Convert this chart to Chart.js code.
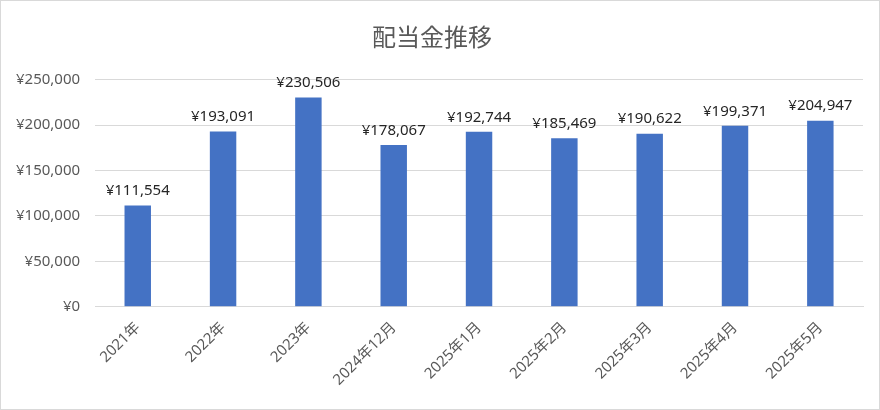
<!DOCTYPE html>
<html>
<head>
<meta charset="utf-8">
<script src="https://cdn.jsdelivr.net/npm/chart.js@4.4.1/dist/chart.umd.min.js"></script>
<style>
	html, body { margin: 0; padding: 0; background: #fff; }
	#wrap { width: 878px; height: 408px; border: 1px solid #d9d9d9; }
</style>
</head>
<body>
<div id="wrap"><canvas id="myChart" width="878" height="408"></canvas></div>
<script>
const labels = ['2021年', '2022年', '2023年', '2024年12月', '2025年1月', '2025年2月', '2025年3月', '2025年4月', '2025年5月'];
const dividends = [111554, 193091, 230506, 178067, 192744, 185469, 190622, 199371, 204947];
const yTicks = [0, 50000, 100000, 150000, 200000, 250000];

const fontFamily = '"Noto Sans", "Noto Sans CJK JP", sans-serif';
const yen = (v) => '¥' + v.toLocaleString('en-US');

// draws the value above each bar
const valueLabels = {
	id: 'valueLabels',
	afterDatasetsDraw(chart) {
		const ctx = chart.ctx;
		const meta = chart.getDatasetMeta(0);
		ctx.save();
		ctx.font = '15px ' + fontFamily;
		ctx.fillStyle = '#262626';
		ctx.textAlign = 'center';
		ctx.textBaseline = 'bottom';
		meta.data.forEach((bar, i) => {
			ctx.fillText(yen(dividends[i]), bar.x, bar.y - 7);
		});
		ctx.restore();
	}
};

var ctx = document.getElementById('myChart').getContext('2d');
var myChart = new Chart(ctx, {
	type: 'bar',
	data: {
		labels: labels,
		datasets: [{
			label: '配当金',
			data: dividends,
			backgroundColor: '#4472C4',
			categoryPercentage: 1,
			barPercentage: 0.31
		}]
	},
	options: {
		responsive: false,
		animation: false,
		layout: { padding: { left: 0, right: 16, top: 0, bottom: 16 } },
		plugins: {
			legend: { display: false },
			tooltip: { enabled: false },
			title: {
				display: true,
				text: '配当金推移',
				color: '#595959',
				font: { family: fontFamily, size: 24, weight: 'normal' },
				padding: { top: 24, bottom: 26 }
			}
		},
		scales: {
			x: {
				grid: { display: false },
				border: { color: '#d9d9d9' },
				ticks: {
					color: '#595959',
					font: { family: fontFamily, size: 15 },
					minRotation: 45,
					maxRotation: 45,
					padding: 4
				}
			},
			y: {
				min: 0,
				max: 250000,
				afterBuildTicks: (axis) => { axis.ticks = yTicks.map(v => ({ value: v })); },
				grid: { color: '#d9d9d9', drawTicks: false },
				border: { display: false },
				ticks: {
					color: '#595959',
					font: { family: fontFamily, size: 15 },
					padding: 15,
					callback: (v) => yen(v)
				}
			}
		}
	},
	plugins: [valueLabels]
});
</script>
</body>
</html>
